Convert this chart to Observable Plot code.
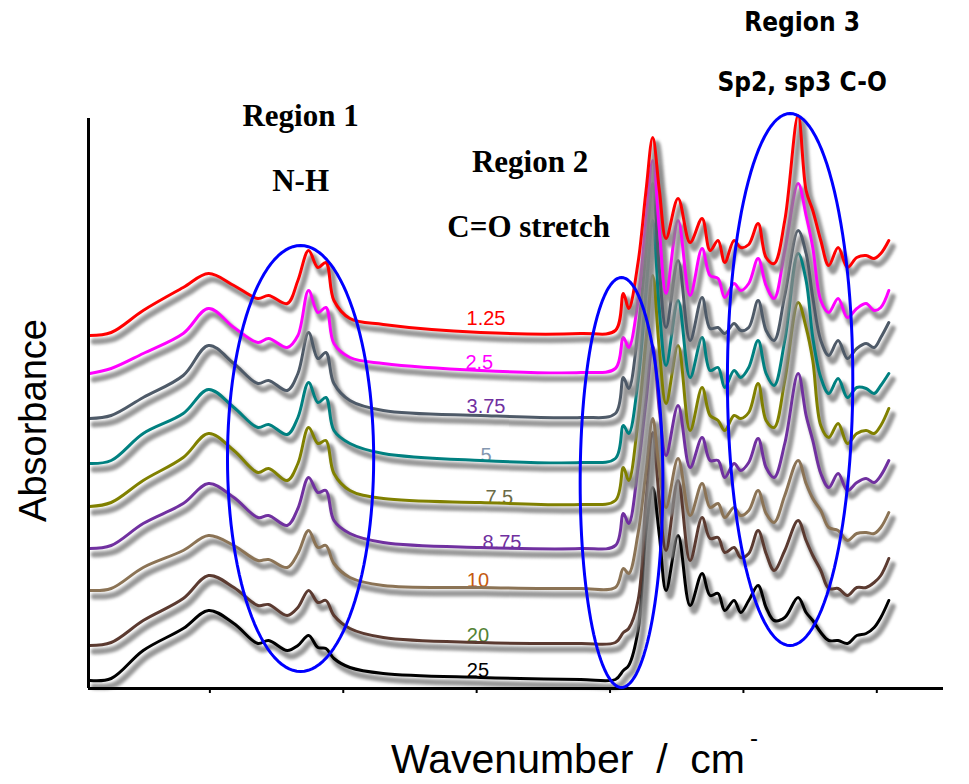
<!DOCTYPE html>
<html><head><meta charset="utf-8">
<script src="https://cdn.jsdelivr.net/npm/d3@7"></script>
<script src="https://cdn.jsdelivr.net/npm/@observablehq/plot@0.6"></script>
<style>body{margin:0;background:#fff}</style>
</head><body><div id="chart"></div>
<script>
// ---- data ----
const wavenumber = [3950,3870,3750,3600,3505,3410,3320,3280,3210,3170,3130,3095,3065,3035,2975,2850,2485,2110,1980,1950,1930,1895,1865,1840,1815,1790,1745,1700,1655,1625,1595,1570,1535,1510,1480,1445,1415,1385,1345,1295,1265,1240,1210,1180,1145,1110,1075,1040,1010,985,955];
const s1_25 = [3.53,3.56,3.78,4.01,4.15,4.03,3.90,3.93,3.85,4.08,4.38,4.21,4.26,3.88,3.70,3.64,3.56,3.55,3.58,3.95,3.80,4.26,4.98,5.51,4.98,4.50,4.90,4.46,4.70,4.38,4.48,4.26,4.48,4.41,4.44,4.65,4.31,4.25,4.68,5.73,4.98,4.78,4.48,4.23,4.41,4.21,4.31,4.33,4.30,4.35,4.48];
const s2_5 = [3.15,3.20,3.35,3.55,3.80,3.61,3.46,3.50,3.41,3.53,3.98,3.76,3.81,3.45,3.31,3.25,3.18,3.16,3.20,3.51,3.41,3.88,4.68,5.28,4.58,3.95,4.68,3.93,4.40,4.13,4.10,3.91,4.05,3.98,4.05,4.30,4.03,3.90,4.38,5.05,4.73,4.41,3.88,3.76,3.90,3.71,3.80,3.85,3.78,3.81,3.98];
const s3_75 = [2.70,2.73,2.91,3.13,3.43,3.25,3.05,3.08,2.98,3.15,3.56,3.30,3.36,3.05,2.88,2.78,2.73,2.71,2.75,3.11,3.00,3.58,4.38,5.05,4.18,3.61,4.28,3.48,3.91,3.60,3.61,3.55,3.65,3.58,3.61,3.88,3.58,3.48,3.93,4.58,4.35,3.91,3.48,3.33,3.48,3.30,3.40,3.45,3.41,3.51,3.66];
const s5 = [2.25,2.28,2.55,2.75,2.99,2.81,2.61,2.64,2.54,2.71,3.06,2.86,2.91,2.58,2.45,2.35,2.28,2.26,2.30,2.63,2.55,3.08,3.98,4.68,3.78,3.23,3.88,3.11,3.51,3.18,3.21,3.01,3.18,3.11,3.21,3.48,3.15,3.03,3.48,4.35,4.08,3.51,3.11,2.95,3.10,2.91,3.01,3.00,2.95,3.03,3.15];
const s7_5 = [1.82,1.86,2.08,2.31,2.55,2.38,2.16,2.20,2.08,2.25,2.61,2.45,2.48,2.15,1.98,1.90,1.86,1.84,1.88,2.21,2.08,2.68,3.48,4.13,3.38,2.85,3.43,2.58,3.01,2.73,2.68,2.58,2.73,2.70,2.76,3.05,2.68,2.61,3.08,3.86,3.61,3.28,2.63,2.51,2.65,2.45,2.55,2.58,2.55,2.63,2.80];
const s8_75 = [1.40,1.43,1.65,1.85,2.05,1.91,1.71,1.73,1.63,1.80,2.11,1.96,1.98,1.68,1.55,1.46,1.41,1.40,1.43,1.75,1.65,2.21,2.88,3.43,2.78,2.33,2.83,2.21,2.51,2.28,2.28,2.11,2.25,2.18,2.26,2.50,2.21,2.11,2.45,3.15,2.73,2.48,2.15,2.01,2.15,1.98,2.06,2.10,2.06,2.13,2.28];
const s10 = [0.98,1.00,1.21,1.38,1.53,1.43,1.28,1.29,1.21,1.35,1.58,1.41,1.43,1.25,1.11,1.03,1.01,1.00,1.01,1.20,1.15,1.55,2.18,2.70,2.18,1.81,2.30,1.73,2.05,1.81,1.85,1.71,1.81,1.73,1.78,1.98,1.75,1.66,1.93,2.28,2.05,1.90,1.78,1.61,1.58,1.48,1.55,1.56,1.55,1.61,1.76];
const s20 = [0.43,0.46,0.68,0.90,1.13,1.01,0.83,0.84,0.73,0.81,0.98,0.86,0.88,0.73,0.60,0.51,0.46,0.45,0.46,0.56,0.60,0.88,1.88,2.56,1.88,1.38,2.08,1.28,1.71,1.50,1.51,1.36,1.41,1.31,1.35,1.58,1.35,1.18,1.38,1.68,1.48,1.33,1.18,1.00,1.00,0.93,1.01,1.01,1.06,1.13,1.30];
const s25 = [0.08,0.10,0.38,0.60,0.78,0.65,0.45,0.48,0.38,0.43,0.53,0.41,0.40,0.30,0.21,0.15,0.11,0.09,0.09,0.18,0.23,0.58,1.58,2.01,1.53,0.98,1.53,0.83,1.15,0.93,0.95,0.78,0.88,0.76,0.88,1.03,0.81,0.68,0.71,0.91,0.76,0.68,0.56,0.48,0.48,0.45,0.53,0.55,0.61,0.71,0.88];

// drawn bottom to top
const seriesValues = [s25, s20, s10, s8_75, s7_5, s5, s3_75, s2_5, s1_25];
const seriesColors = ["#000000","#5b3a30","#8b7355","#7030a0","#808000","#008080","#4e5a68","#ff00ff","#ff0000"];

const labelText = ["1.25","2.5","3.75","5","7.5","8.75","10","20","25"];
const labelWn = [2465,2490,2465,2465,2415,2405,2495,2495,2495];
const labelAbs = [3.70,3.26,2.82,2.33,1.91,1.46,1.08,0.53,0.18];
const labelColors = ["#ff0000","#ff00ff","#7030a0","#8497b0","#6b6b47","#7030a0","#c55a11","#548235","#000000"];

const ellipseCx = [3160, 1957, 1325];
const ellipseCy = [2.30, 2.06, 3.09];
const ellipseRx = [274, 155, 235];
const ellipseRy = [2.13, 2.05, 2.66];

const annoText = ["Region 1","N-H","Region 2","C=O stretch","Region 3","Sp2, sp3 C-O"];
const annoWn = [3160,3160,2300,2305,1280,1280];
const annoAbs = [5.72,5.07,5.26,4.61,6.66,6.06];
const annoSerif = [true,true,true,true,false,false];

const xTicks = [3500,3000,2500,2000,1500,1000];
const xDomain = [3955, 750];
const yDomain = [0, 5.7];

// ---- marks ----
const sans = "Liberation Sans, Arial, sans-serif";
const marks = [];

labelText.forEach((t, i) => {
  marks.push(Plot.text([t], {x: () => labelWn[i], y: () => labelAbs[i], text: d => d,
    fill: labelColors[i], fontSize: 20, fontFamily: sans}));
});

seriesValues.forEach((vals, k) => {
  const data = wavenumber.map((w, i) => ({w, a: vals[i]}));
  marks.push(Plot.line(data, {x: "w", y: "a", stroke: "#858585", strokeWidth: 6,
    strokeOpacity: 0.85, dx: 4, dy: 6, curve: "catmull-rom", ariaDescription: "shadow"}));
  marks.push(Plot.line(data, {x: "w", y: "a", stroke: seriesColors[k], strokeWidth: 3,
    curve: "catmull-rom"}));
});

// axis frame
marks.push(Plot.ruleY([yDomain[0]], {stroke: "#000", strokeWidth: 3}));
marks.push(Plot.ruleX([xDomain[0]], {stroke: "#000", strokeWidth: 3}));
marks.push(Plot.axisX({ticks: xTicks, tickSize: 5, tickFormat: () => "", label: null, strokeWidth: 2}));

// ellipses
ellipseCx.forEach((cx, i) => {
  const pts = d3.range(0, 120).map(j => {
    const t = j / 120 * 2 * Math.PI;
    return {w: cx + ellipseRx[i] * Math.cos(t), a: ellipseCy[i] + ellipseRy[i] * Math.sin(t)};
  });
  marks.push(Plot.line(pts, {x: "w", y: "a", stroke: "#0000ff", strokeWidth: 3, curve: "linear-closed"}));
});

// annotations
annoText.forEach((t, i) => {
  marks.push(Plot.text([t], {x: () => annoWn[i], y: () => annoAbs[i], text: d => d,
    fill: "#000", fontWeight: "bold",
    fontSize: annoSerif[i] ? 31 : 26,
    fontFamily: annoSerif[i] ? "Liberation Serif, Times New Roman, serif" : "DejaVu Sans Condensed, DejaVu Sans, sans-serif"}));
});

// axis titles
marks.push(Plot.text(["Absorbance"], {frameAnchor: "left", textAnchor: "middle", lineAnchor: "middle",
  dx: -55, dy: 17, rotate: -90, fontSize: 38, fontFamily: sans, fill: "#000"}));
marks.push(Plot.text(["Wavenumber\u00a0 /\u00a0 cm"], {frameAnchor: "bottom", dx: 52, dy: 84,
  fontSize: 41, fontFamily: sans, fill: "#000"}));
marks.push(Plot.text(["-"], {frameAnchor: "bottom", dx: 238, dy: 57,
  fontSize: 24, fontFamily: sans, fill: "#000"}));

const chart = Plot.plot({
  width: 969, height: 784,
  marginLeft: 88, marginRight: 26, marginTop: 118, marginBottom: 96,
  x: {domain: xDomain, axis: null},
  y: {domain: yDomain, axis: null},
  style: {background: "#fff", overflow: "visible"},
  marks
});
d3.select(chart).selectAll('[aria-description="shadow"]').style("filter", "blur(1.8px)");
document.getElementById("chart").appendChild(chart);
</script>
</body></html>
